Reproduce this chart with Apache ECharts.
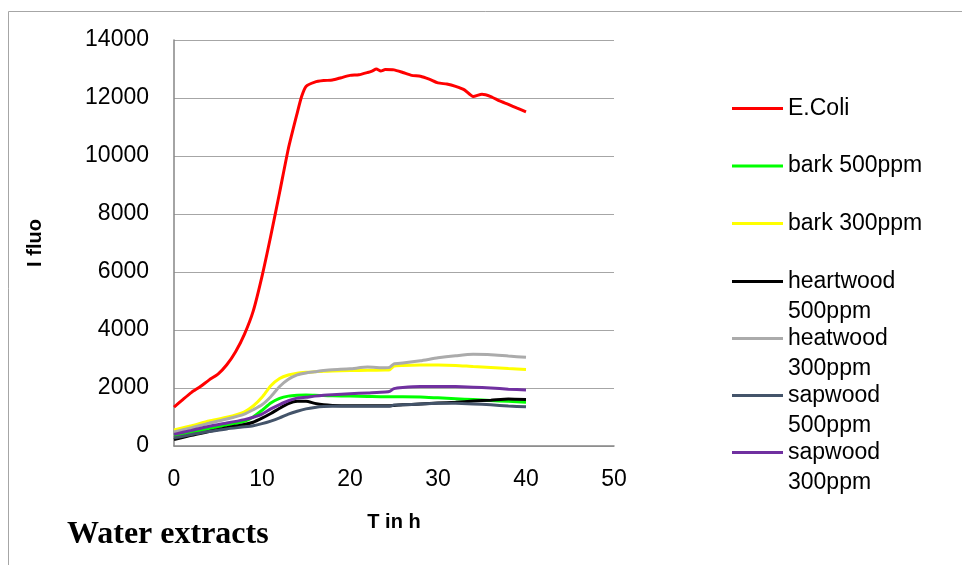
<!DOCTYPE html>
<html>
<head>
<meta charset="utf-8">
<script src="https://cdn.jsdelivr.net/npm/echarts@6/dist/echarts.min.js"></script>
<style>
html,body{margin:0;padding:0;background:#fff;}
#chart{width:962px;height:565px;}
</style>
</head>
<body>
<div id="chart"></div>
<script>
// ---- data ----
const seriesNames = ['E.Coli','bark 500ppm','bark 300ppm','heartwood 500ppm','heatwood 300ppm','sapwood 500ppm','sapwood 300ppm'];
const xTicks = [0,10,20,30,40,50];
const yTicks = [0,2000,4000,6000,8000,10000,12000,14000];

const ecoliT = [0,1,2,3,4,5,6,7,8,9,10,11,12,13,14,14.5,15,16,17,18,19,20,21,22,22.5,23,23.5,24,25,26,27,28,29,30,31,32,33,34,35,36,37,38,39,40];
const ecoliV = [1340,1600,1850,2050,2280,2480,2800,3250,3850,4650,5850,7250,8740,10260,11480,12050,12400,12550,12600,12620,12700,12780,12800,12880,12930,13000,12930,12980,12970,12880,12780,12750,12650,12520,12480,12400,12280,12050,12130,12050,11900,11780,11650,11520];

const lowT = [0,2,4,6,8,9,10,11,12,13,14,15,16,17,18,20,22,24,24.5,25,26,28,30,32,34,36,38,40];
const bark500 = [360,480,600,720,850,1000,1230,1480,1640,1720,1750,1760,1750,1740,1730,1720,1710,1700,1700,1700,1700,1690,1660,1630,1600,1570,1540,1510];
const bark300 = [550,700,860,990,1180,1380,1680,2080,2330,2450,2510,2540,2560,2580,2590,2600,2610,2620,2630,2760,2780,2790,2790,2780,2740,2710,2670,2640];
const heart500 = [220,370,500,630,740,820,960,1120,1300,1460,1540,1540,1470,1420,1400,1390,1390,1390,1390,1400,1420,1450,1480,1510,1550,1580,1620,1600];
const heat300 = [480,630,790,930,1100,1250,1420,1700,2050,2300,2450,2520,2560,2600,2630,2660,2720,2700,2710,2830,2860,2940,3040,3110,3160,3150,3100,3060];
const sap500 = [280,400,500,590,660,700,770,860,970,1100,1200,1280,1330,1360,1370,1370,1370,1370,1370,1410,1420,1450,1470,1470,1450,1420,1380,1350];
const sap300 = [400,540,680,790,910,990,1100,1280,1430,1560,1650,1680,1720,1750,1770,1800,1830,1860,1880,1980,2020,2050,2050,2050,2030,2000,1960,1930];

const colors = ['#FF0000','#00FF00','#FFFF00','#000000','#ABABAB','#44546A','#7030A0'];

function pairs(ts, vs){ return ts.map((t,i)=>[t, vs[i]]); }
const seriesData = [
  pairs(ecoliT, ecoliV),
  pairs(lowT, bark500),
  pairs(lowT, bark300),
  pairs(lowT, heart500),
  pairs(lowT, heat300),
  pairs(lowT, sap500),
  pairs(lowT, sap300)
];

const chart = echarts.init(document.getElementById('chart'), null, {renderer:'canvas'});
const font = 'Liberation Sans, Arial, sans-serif';

// one legend component per entry; wrapped names get an empty first line so the
// swatch lines up with the first visible line (text block is centred on the swatch)
const legendCenters = [107, 164.5, 222, 280, 337, 394, 451];
const legends = seriesNames.map((n, i) => {
  const wrap = n.length > 12;
  return {
    orient:'vertical', left:732, top: legendCenters[i] - 1.5 - (wrap ? 45 : 15) + 3, padding:0,
    itemWidth:51, itemHeight:3, icon:'rect',
    data:[n],
    formatter: s => wrap ? '\n' + s.replace(' ', '\n') : s,
    textStyle:{fontFamily:font, fontSize:23, color:'#000', lineHeight:30}
  };
});

chart.setOption({
  animation: false,
  backgroundColor: '#fff',
  color: colors,
  graphic: [
    {type:'rect', shape:{x:8.5,y:11.5,width:1000,height:600}, style:{fill:'none', stroke:'#a6a6a6', lineWidth:1}, silent:true},
    {type:'text', left:67, top:519, style:{text:'Water extracts', font:'bold 32px "Liberation Serif", "Times New Roman", serif', fill:'#000'}}
  ],
  grid: {left:174, right:348, top:40, bottom:119, containLabel:false},
  xAxis: {
    type:'value', min:0, max:50, interval:10,
    name:'T in h', nameLocation:'middle', nameGap:66,
    nameTextStyle:{fontFamily:font, fontWeight:'bold', fontSize:20, color:'#000'},
    axisLine:{show:true, onZero:false, lineStyle:{color:'#868686', width:1.5}},
    axisTick:{show:false},
    splitLine:{show:false},
    axisLabel:{fontFamily:font, fontSize:23, color:'#000', margin:22, formatter: v => xTicks.includes(v) ? String(v) : ''}
  },
  yAxis: {
    type:'value', min:0, max:14000, interval:2000,
    name:'I fluo', nameLocation:'middle', nameGap:129,
    nameTextStyle:{fontFamily:font, fontWeight:'bold', fontSize:20, color:'#000'},
    axisLine:{show:true, lineStyle:{color:'#868686', width:1.5}},
    axisTick:{show:false},
    splitLine:{show:true, lineStyle:{color:'#a6a6a6', width:1}},
    axisLabel:{fontFamily:font, fontSize:23, color:'#000', margin:25, formatter: v => yTicks.includes(v) ? String(v) : ''}
  },
  legend: legends,
  series: seriesNames.map((n,i)=>({
    name:n, type:'line', data:seriesData[i],
    showSymbol:false, symbol:'none', smooth:0.2,
    lineStyle:{width:3, color:colors[i]},
    itemStyle:{color:colors[i]}
  }))
});
</script>
</body>
</html>
